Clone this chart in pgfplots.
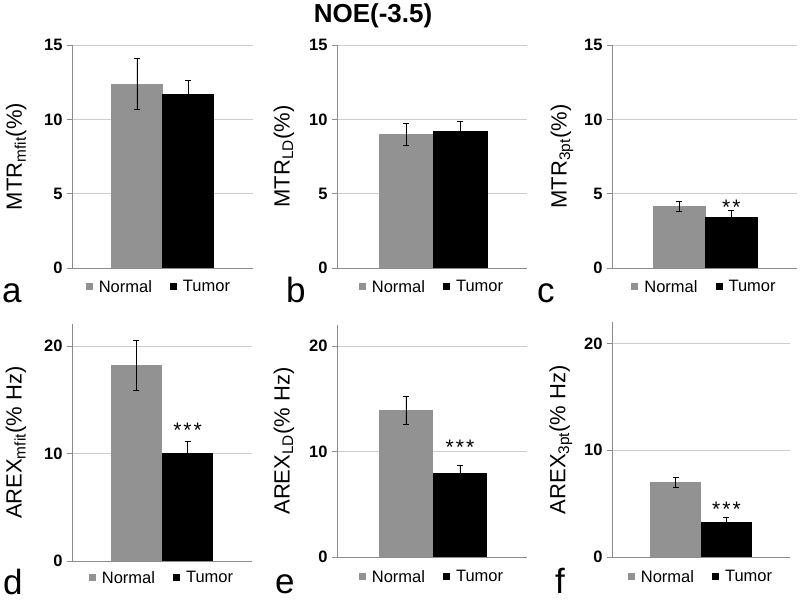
\documentclass[border=0pt]{standalone}
\usepackage{fontspec}
\setmainfont{Liberation Sans}
\usepackage{pgfplots}
\pgfplotsset{compat=1.18}

\definecolor{normalc}{RGB}{146,146,146}
\definecolor{gridc}{RGB}{205,205,205}
\definecolor{axisc}{RGB}{140,140,140}

\tikzset{stars/.style={font=\fontsize{21}{21}\selectfont, anchor=center}}
\newcommand{\twostar}{*\kern2pt*}
\newcommand{\threestar}{*\kern2pt*\kern2pt*}

\pgfplotsset{
  panel/.style={
    scale only axis,
    anchor=south west,
    axis lines*=left,
    axis line style={axisc, line width=0.8pt},
    xmin=0, xmax=1, xtick=\empty,
    ymin=0, enlargelimits=false,
    ymajorgrids, grid style={gridc, line width=0.8pt},
    tick align=outside, major tick length=5pt,
    tick style={axisc, line width=0.8pt},
    /pgf/number format/assume math mode=true,
    yticklabel style={font=\fontsize{16.5}{18}\selectfont\bfseries, xshift=-1pt},
    ylabel style={font=\fontsize{22}{24}\selectfont, anchor=center},
    legend columns=2,
    legend style={draw=none, fill=none, font=\fontsize{16.5}{18}\selectfont,
      anchor=center,
      /tikz/every odd column/.append style={column sep=4pt},
      /tikz/every even column/.append style={column sep=16pt}},
    clip=false,
  },
  sq legend/.style={legend image code/.code={\fill[##1] (0pt,-3.5pt) rectangle (7pt,3.5pt);}},
  nbar/.style={ybar, bar width=#1, bar shift=0pt, fill=normalc, draw=none, sq legend},
  tbar/.style={ybar, bar width=#1, bar shift=0pt, fill=black, draw=none, sq legend},
  ebar/.style={error bars/y dir=both, error bars/y explicit,
    error bars/error bar style={black, line width=0.6pt},
    error bars/error mark options={rotate=90, mark size=3pt, black, line width=0.6pt}},
}

\begin{document}
\begin{tikzpicture}
\path[use as bounding box] (0,0) rectangle (800pt,601pt);

% a
\begin{axis}[panel, at={(72pt,333pt)}, width=181pt, height=223pt,
  ymax=15, ytick={0,5,10,15},
  ylabel={MTR\textsubscript{mfit}(\%)},
  ylabel style={at={(axis description cs:-0.309,0.5)}},
  legend style={at={(axis description cs:0.48,0)}, yshift=-19pt}]
\addplot[nbar=51.6pt, ebar] coordinates {(0.359,12.4) +- (0,1.7)};
\addlegendentry{Normal}
\addplot[tbar=51.6pt, ebar] coordinates {(0.641,11.7) +- (0,0.9)};
\addlegendentry{Tumor}
\end{axis}

% b
\begin{axis}[panel, at={(337pt,333pt)}, width=190pt, height=223pt,
  ymax=15, ytick={0,5,10,15},
  ylabel={MTR\textsubscript{LD}(\%)},
  ylabel style={at={(axis description cs:-0.279,0.5)}},
  legend style={at={(axis description cs:0.5,0)}, yshift=-19pt}]
\addplot[nbar=54.5pt, ebar] coordinates {(0.365,9.0) +- (0,0.75)};
\addlegendentry{Normal}
\addplot[tbar=54.5pt, ebar] coordinates {(0.649,9.2) +- (0,0.65)};
\addlegendentry{Tumor}
\end{axis}

% c
\begin{axis}[panel, at={(612pt,333pt)}, width=185pt, height=223pt,
  ymax=15, ytick={0,5,10,15},
  ylabel={MTR\textsubscript{3pt}(\%)},
  ylabel style={at={(axis description cs:-0.270,0.5)}},
  legend style={at={(axis description cs:0.5,0)}, yshift=-19pt}]
\addplot[nbar=52.5pt, ebar] coordinates {(0.364,4.15) +- (0,0.35)};
\addlegendentry{Normal}
\addplot[tbar=52.5pt, ebar] coordinates {(0.645,3.45) +- (0,0.4)};
\addlegendentry{Tumor}
\node[stars] at (axis cs:0.645,4.1) {\twostar};
\end{axis}

% d
\begin{axis}[panel, at={(72pt,40pt)}, width=180pt, height=236.5pt,
  ymax=22, ytick={0,10,20},
  ylabel={AREX\textsubscript{mfit}(\% Hz)},
  ylabel style={at={(axis description cs:-0.311,0.5)}},
  legend style={at={(axis description cs:0.5,0)}, yshift=-17pt}]
\addplot[nbar=51.5pt, ebar] coordinates {(0.358,18.2) +- (0,2.3)};
\addlegendentry{Normal}
\addplot[tbar=51.5pt, ebar] coordinates {(0.642,10.0) +- (0,1.1)};
\addlegendentry{Tumor}
\node[stars] at (axis cs:0.642,12.2) {\threestar};
\end{axis}

% e
\begin{axis}[panel, at={(337pt,44pt)}, width=190pt, height=232pt,
  ymax=22, ytick={0,10,20},
  ylabel={AREX\textsubscript{LD}(\% Hz)},
  ylabel style={at={(axis description cs:-0.279,0.5)}},
  legend style={at={(axis description cs:0.5,0)}, yshift=-20pt}]
\addplot[nbar=54.5pt, ebar] coordinates {(0.363,13.9) +- (0,1.35)};
\addlegendentry{Normal}
\addplot[tbar=54.5pt, ebar] coordinates {(0.647,8.0) +- (0,0.7)};
\addlegendentry{Tumor}
\node[stars] at (axis cs:0.647,10.4) {\threestar};
\end{axis}

% f
\begin{axis}[panel, at={(612pt,44pt)}, width=178pt, height=234.7pt,
  ymax=22, ytick={0,10,20},
  ylabel={AREX\textsubscript{3pt}(\% Hz)},
  ylabel style={at={(axis description cs:-0.287,0.5)}},
  legend style={at={(axis description cs:0.5,0)}, yshift=-20pt}]
\addplot[nbar=51.5pt, ebar] coordinates {(0.357,7.0) +- (0,0.5)};
\addlegendentry{Normal}
\addplot[tbar=51.5pt, ebar] coordinates {(0.643,3.25) +- (0,0.5)};
\addlegendentry{Tumor}
\node[stars] at (axis cs:0.643,4.45) {\threestar};
\end{axis}

\node[font=\fontsize{26}{28}\selectfont\bfseries] at (373pt,585pt) {NOE(-3.5)};

\node[font=\fontsize{35}{36}\selectfont, anchor=base west, inner sep=0pt] at (2pt,298pt) {a};
\node[font=\fontsize{35}{36}\selectfont, anchor=base west, inner sep=0pt] at (286pt,298pt) {b};
\node[font=\fontsize{35}{36}\selectfont, anchor=base west, inner sep=0pt] at (537pt,298pt) {c};
\node[font=\fontsize{35}{36}\selectfont, anchor=base west, inner sep=0pt] at (3pt,6pt) {d};
\node[font=\fontsize{35}{36}\selectfont, anchor=base west, inner sep=0pt] at (275pt,7pt) {e};
\node[font=\fontsize{35}{36}\selectfont, anchor=base west, inner sep=0pt] at (555pt,7pt) {f};
\end{tikzpicture}
\end{document}
